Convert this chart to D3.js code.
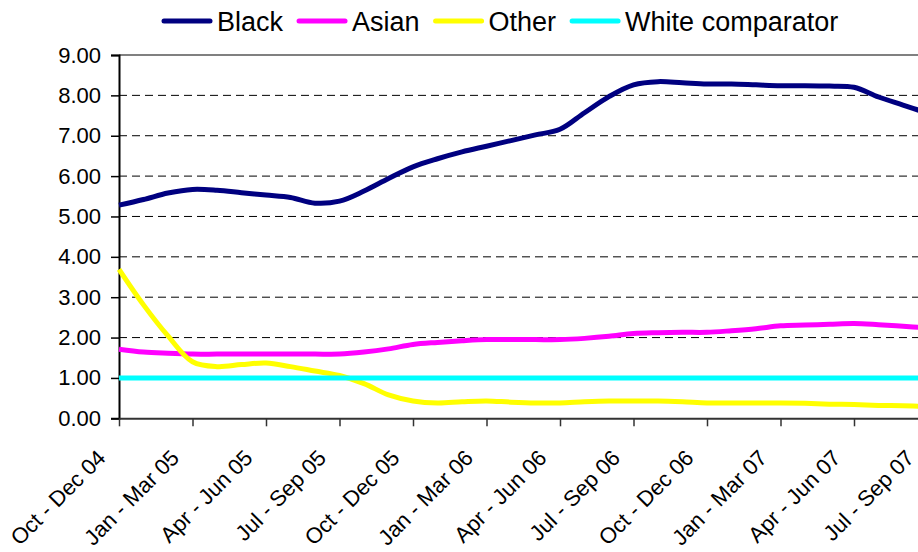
<!DOCTYPE html>
<html><head><meta charset="utf-8">
<script src="https://cdn.jsdelivr.net/npm/d3@7"></script>
<style>body{margin:0;background:#fff}svg{display:block;font-family:"Liberation Sans",Arial,sans-serif}</style>
</head><body><svg id="c" width="918" height="552"></svg>
<script>
const periods = ["Oct - Dec 04","Nov 04 - Jan 05","Dec 04 - Feb 05","Jan - Mar 05","Feb - Apr 05","Mar - May 05",
  "Apr - Jun 05","May - Jul 05","Jun - Aug 05","Jul - Sep 05","Aug - Oct 05","Sep - Nov 05",
  "Oct - Dec 05","Nov 05 - Jan 06","Dec 05 - Feb 06","Jan - Mar 06","Feb - Apr 06","Mar - May 06",
  "Apr - Jun 06","May - Jul 06","Jun - Aug 06","Jul - Sep 06","Aug - Oct 06","Sep - Nov 06",
  "Oct - Dec 06","Nov 06 - Jan 07","Dec 06 - Feb 07","Jan - Mar 07","Feb - Apr 07","Mar - May 07",
  "Apr - Jun 07","May - Jul 07","Jun - Aug 07","Jul - Sep 07"];
const tickLabels = ["Oct - Dec 04","Jan - Mar 05","Apr - Jun 05","Jul - Sep 05","Oct - Dec 05","Jan - Mar 06",
  "Apr - Jun 06","Jul - Sep 06","Oct - Dec 06","Jan - Mar 07","Apr - Jun 07","Jul - Sep 07"];
const black = [5.28,5.42,5.58,5.67,5.65,5.59,5.53,5.47,5.33,5.38,5.63,5.94,6.23,6.43,6.60,6.74,6.88,7.02,
  7.16,7.57,7.97,8.26,8.34,8.31,8.28,8.28,8.26,8.24,8.24,8.23,8.20,7.96,7.76,7.56];
const asian = [1.71,1.64,1.61,1.59,1.59,1.59,1.59,1.59,1.59,1.59,1.64,1.72,1.83,1.88,1.92,1.95,1.95,1.95,
  1.95,1.98,2.03,2.10,2.12,2.13,2.13,2.17,2.22,2.29,2.31,2.33,2.35,2.32,2.28,2.24];
const other = [3.69,2.81,2.04,1.40,1.28,1.33,1.37,1.28,1.17,1.06,0.86,0.58,0.43,0.38,0.41,0.43,0.40,0.38,
  0.38,0.41,0.43,0.43,0.43,0.41,0.38,0.38,0.38,0.38,0.37,0.35,0.34,0.32,0.31,0.29];
const white = [1,1,1,1,1,1,1,1,1,1,1,1,1,1,1,1,1,1,1,1,1,1,1,1,1,1,1,1,1,1,1,1,1,1];
const seriesNames = ["Black","Asian","Other","White comparator"];
const seriesColors = ["#000080","#FF00FF","#FFFF00","#00FFFF"];
const yTicks = [0,1,2,3,4,5,6,7,8,9];

const svg = d3.select("#c");
const x = d3.scalePoint().domain(periods).range([119, 927.5]);
const y = d3.scaleLinear().domain([0, 9]).range([418.3, 55]);

// gridlines
svg.append("g").selectAll("line").data(yTicks.filter(d => d > 0 && d < 9)).join("line")
  .attr("x1", 119).attr("x2", 918).attr("y1", d => y(d)).attr("y2", d => y(d))
  .attr("stroke", "#000").attr("stroke-width", 1).attr("stroke-dasharray", "8,5");
svg.append("line").attr("x1", 119).attr("x2", 918).attr("y1", y(9)).attr("y2", y(9))
  .attr("stroke", "#808080").attr("stroke-width", 2);

// y axis
const yAxis = svg.append("g").attr("transform", "translate(119,0)")
  .call(d3.axisLeft(y).tickValues(yTicks).tickFormat(d3.format(".2f")).tickSize(8).tickPadding(10));
yAxis.select(".domain").attr("stroke", "#000").attr("stroke-width", 2);
yAxis.selectAll(".tick line").attr("stroke", "#000").attr("stroke-width", 1.5);
yAxis.selectAll("text").attr("font-size", 22).attr("font-family", "Liberation Sans, Arial, sans-serif").attr("fill", "#000");

// x axis
const xAxis = svg.append("g").attr("transform", `translate(0,${y(0)})`)
  .call(d3.axisBottom(x).tickValues(tickLabels).tickSize(8).tickSizeOuter(0).tickFormat(""));
xAxis.select(".domain").attr("stroke", "#333").attr("stroke-width", 2);
xAxis.selectAll(".tick line").attr("stroke", "#333").attr("stroke-width", 1.5);
svg.append("g").selectAll("text").data(tickLabels).join("text")
  .attr("transform", d => `translate(${x(d) - 12},${y(0) + 41}) rotate(-45)`)
  .attr("text-anchor", "end").attr("font-size", 22).attr("fill", "#000").text(d => d);

// lines
const series = [black, asian, other, white];
const line = d3.line().x((d, i) => x(periods[i])).y(d => y(d)).curve(d3.curveCatmullRom.alpha(0.5));
svg.append("g").selectAll("path").data(series).join("path")
  .attr("d", d => line(d)).attr("fill", "none")
  .attr("stroke", (d, i) => seriesColors[i]).attr("stroke-width", 5)
  .attr("stroke-linejoin", "round");

// legend
const lg = svg.append("g");
let lx = 164;
seriesNames.forEach((name, i) => {
  lg.append("line").attr("x1", lx).attr("x2", lx + 46).attr("y1", 21).attr("y2", 21)
    .attr("stroke", seriesColors[i]).attr("stroke-width", 5).attr("stroke-linecap", "round");
  const t = lg.append("text").attr("x", lx + 53).attr("y", 30.7).attr("font-size", 27).attr("fill", "#000").text(name);
  lx = lx + 53 + t.node().getComputedTextLength() + 16;
});
</script></body></html>
